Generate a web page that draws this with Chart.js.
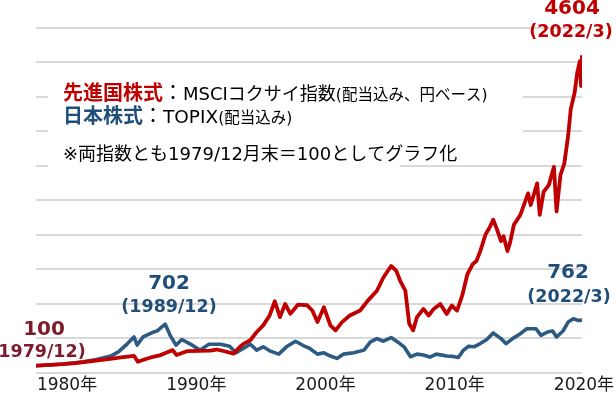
<!DOCTYPE html>
<html>
<head>
<meta charset="utf-8">
<script src="https://cdn.jsdelivr.net/npm/chart.js@4/dist/chart.umd.min.js"></script>
<style>
  html, body { margin: 0; padding: 0; background: #fff; }
  #wrap { width: 616px; height: 399px; }
</style>
</head>
<body>
<div id="wrap"><canvas id="chart" width="616" height="399"></canvas></div>
<script>
// 先進国株式 (MSCIコクサイ, 配当込み・円ベース), 1979/12 = 100
const redYears = [1979.92, 1981.0, 1982.0, 1983.0, 1984.4, 1985.5, 1986.5, 1987.5, 1987.8, 1988.3,
  1988.8, 1989.5, 1989.9, 1990.5, 1990.8, 1991.6, 1992.6, 1993.4, 1993.9, 1994.5,
  1995.2, 1995.7, 1996.0, 1996.5, 1997.0, 1997.5, 1998.0, 1998.4, 1998.8, 1999.2,
  1999.6, 2000.2, 2000.9, 2001.3, 2001.7, 2002.2, 2002.7, 2003.1, 2003.6, 2004.2,
  2005.0, 2005.6, 2006.3, 2006.8, 2007.4, 2007.8, 2008.1, 2008.5, 2008.8, 2009.1,
  2009.4, 2009.9, 2010.3, 2010.7, 2011.2, 2011.7, 2012.1, 2012.5, 2012.9, 2013.3,
  2013.7, 2014.0, 2014.3, 2014.7, 2015.0, 2015.3, 2015.6, 2015.9, 2016.1, 2016.4,
  2016.6, 2016.9, 2017.4, 2018.0, 2018.2, 2018.7, 2018.9, 2019.2, 2019.6, 2020.0,
  2020.2, 2020.5, 2020.8, 2021.1, 2021.3, 2021.6, 2021.8, 2022.0, 2022.1, 2022.17];
const redValues = [100, 112, 122, 138, 172, 195, 222, 244, 158, 190,
  220, 250, 280, 326, 254, 311, 316, 320, 335, 310,
  275, 374, 420, 470, 589, 685, 829, 1035, 805, 996,
  852, 987, 977, 901, 733, 948, 685, 613, 733, 829,
  901, 1044, 1188, 1380, 1547, 1476, 1332, 1188, 709, 613,
  805, 924, 829, 924, 996, 852, 972, 900, 1116, 1427,
  1571, 1619, 1763, 2002, 2098, 2217, 2074, 1907, 1979, 1763,
  1882, 2145, 2289, 2601, 2432, 2745, 2289, 2624, 2720, 2985,
  2338, 2864, 3032, 3439, 3822, 4062, 4350, 4517, 4157, 4604];

// 日本株式 (TOPIX, 配当込み), 1979/12 = 100
const blueYears = [1979.92, 1981.0, 1982.0, 1983.6, 1984.6, 1985.7, 1986.3, 1987.0, 1987.5, 1987.75,
  1988.2, 1989.0, 1989.3, 1989.92, 1990.3, 1990.75, 1991.2, 1991.9, 1992.6, 1993.3,
  1994.2, 1994.9, 1995.4, 1996.5, 1997.0, 1997.5, 1998.0, 1998.7, 1999.3, 2000.0,
  2000.6, 2001.1, 2001.7, 2002.2, 2002.7, 2003.2, 2003.7, 2004.5, 2005.3, 2005.8,
  2006.3, 2006.8, 2007.4, 2007.9, 2008.4, 2008.9, 2009.4, 2009.9, 2010.4, 2010.9,
  2011.7, 2012.2, 2012.6, 2013.0, 2013.4, 2013.8, 2014.3, 2014.8, 2015.3, 2015.9,
  2016.3, 2016.8, 2017.4, 2017.9, 2018.6, 2019.0, 2019.5, 2019.9, 2020.2, 2020.7,
  2021.1, 2021.5, 2021.9, 2022.17];
const blueValues = [100, 110, 125, 158, 190, 240, 300, 421, 517, 400,
  517, 589, 604, 702, 541, 398, 480, 410, 326, 412,
  412, 383, 287, 412, 326, 374, 316, 268, 374, 455,
  393, 350, 268, 287, 240, 206, 268, 287, 326, 445,
  493, 455, 508, 445, 374, 230, 268, 254, 225, 268,
  240, 235, 220, 326, 383, 374, 421, 479, 575, 493,
  421, 493, 565, 637, 637, 541, 589, 604, 517, 604,
  733, 780, 757, 762];

const yearTicks = [1980, 1990, 2000, 2010, 2020];

const RED = '#c00000';
const BLUE_LINE = '#2c5a83';
const BLUE_TEXT = '#1f4e79';
const MAROON = '#7b1b2c';

const toPoints = (xs, ys) => xs.map((x, i) => ({ x: x, y: ys[i] }));

// white boxes behind the legend text, then the texts themselves
const notesPlugin = {
  id: 'notes',
  beforeDatasetsDraw(chart) {
    const ctx = chart.ctx;
    ctx.save();
    ctx.fillStyle = '#ffffff';
    ctx.fillRect(48, 70, 475, 70);
    ctx.fillRect(48, 140, 352, 30);
    ctx.restore();
  },
  afterDatasetsDraw(chart) {
    const ctx = chart.ctx;
    const jp = '"Noto Sans CJK JP", "Noto Sans", sans-serif';
    const mix = '"DejaVu Sans", "Noto Sans CJK JP", sans-serif';
    const num = '"DejaVu Sans", sans-serif';

    function runs(x, y, parts) {
      ctx.textAlign = 'left';
      ctx.textBaseline = 'alphabetic';
      parts.forEach(p => {
        ctx.font = p.font;
        ctx.fillStyle = p.color;
        ctx.fillText(p.text, x, y);
        x += ctx.measureText(p.text).width;
      });
    }

    function label(text, x, y, font, color) {
      ctx.font = font;
      ctx.fillStyle = color;
      ctx.textAlign = 'center';
      ctx.textBaseline = 'middle';
      ctx.fillText(text, x, y);
    }

    ctx.save();
    runs(63, 100, [
      { text: '先進国株式', font: 'bold 20px ' + jp, color: RED },
      { text: '：', font: '20px ' + jp, color: '#000' },
      { text: 'MSCIコクサイ指数', font: '18px ' + mix, color: '#000' },
      { text: '(配当込み、円ベース)', font: '15.5px ' + mix, color: '#000' }
    ]);
    runs(63, 123, [
      { text: '日本株式', font: 'bold 20px ' + jp, color: BLUE_TEXT },
      { text: '：', font: '20px ' + jp, color: '#000' },
      { text: 'TOPIX', font: '18.5px ' + mix, color: '#000' },
      { text: '(配当込み)', font: '15.5px ' + mix, color: '#000' }
    ]);
    runs(63, 160, [
      { text: '※両指数とも1979/12月末＝100としてグラフ化', font: '18px ' + mix, color: '#000' }
    ]);

    label('4604', 572, 9, 'bold 20px ' + num, RED);
    label('(2022/3)', 571, 32, 'bold 17.5px ' + num, RED);
    label('702', 169, 284, 'bold 20px ' + num, BLUE_TEXT);
    label('(1989/12)', 169, 307.5, 'bold 17.5px ' + num, BLUE_TEXT);
    label('762', 568, 272.5, 'bold 20px ' + num, BLUE_TEXT);
    label('(2022/3)', 569, 297.5, 'bold 17.5px ' + num, BLUE_TEXT);
    label('100', 44, 330, 'bold 20px ' + num, MAROON);
    label('(1979/12)', 38, 352, 'bold 17.5px ' + num, MAROON);
    ctx.restore();
  }
};

new Chart(document.getElementById('chart'), {
  type: 'line',
  data: {
    datasets: [
      {
        label: '先進国株式',
        data: toPoints(redYears, redValues),
        borderColor: RED,
        borderWidth: 3.8,
        pointRadius: 0,
        tension: 0,
        borderJoinStyle: 'round'
      },
      {
        label: '日本株式',
        data: toPoints(blueYears, blueValues),
        borderColor: BLUE_LINE,
        borderWidth: 3.6,
        pointRadius: 0,
        tension: 0,
        borderJoinStyle: 'round'
      }
    ]
  },
  options: {
    responsive: false,
    animation: false,
    layout: { padding: { left: 36, right: 34, top: 28, bottom: 0 } },
    plugins: {
      legend: { display: false },
      tooltip: { enabled: false }
    },
    scales: {
      x: {
        type: 'linear',
        min: 1979.92,
        max: 2022.17,
        afterBuildTicks: axis => { axis.ticks = yearTicks.map(v => ({ value: v })); },
        grid: { display: false, drawTicks: false },
        border: { display: false },
        ticks: {
          autoSkip: false,
          maxRotation: 0,
          align: 'center',
          labelOffset: 30,
          padding: 3,
          color: '#1a1a1a',
          font: { family: '"DejaVu Sans", "Noto Sans CJK JP", sans-serif', size: 17 },
          callback: v => v + '年'
        }
      },
      y: {
        min: 0,
        max: 5000,
        ticks: { display: false, stepSize: 500 },
        grid: { color: '#d9d9d9', lineWidth: 2, drawTicks: false },
        border: { display: false }
      }
    }
  },
  plugins: [notesPlugin]
});
</script>
</body>
</html>
